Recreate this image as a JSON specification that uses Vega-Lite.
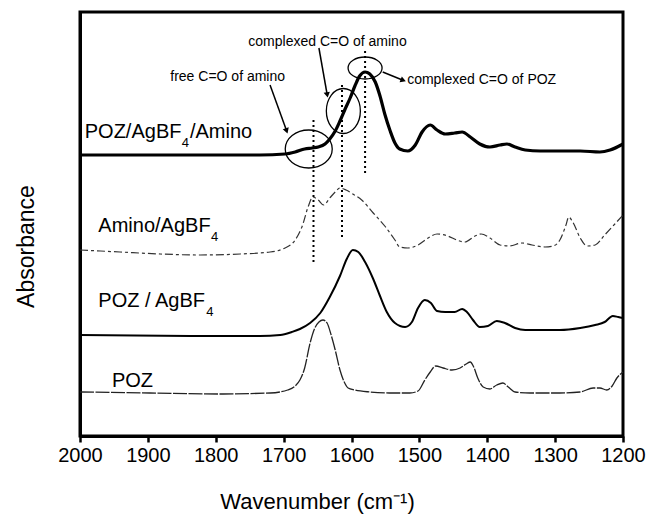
{
  "$schema": "https://vega.github.io/schema/vega-lite/v6.json",
  "width": 543,
  "height": 424,
  "autosize": {"type": "none"},
  "padding": {"left": 80, "top": 12, "right": 25, "bottom": 81},
  "background": "white",
  "config": {"view": {"stroke": "black", "strokeWidth": 3}, "font": "Liberation Sans"},
  "datasets": {
    "spectra": [
      {"series": "POZ/AgBF4/Amino", "wn": 2000, "ab": 281}, {"series": "POZ/AgBF4/Amino", "wn": 1823, "ab": 281}, {"series": "POZ/AgBF4/Amino", "wn": 1735, "ab": 281}, {"series": "POZ/AgBF4/Amino", "wn": 1698, "ab": 282}, {"series": "POZ/AgBF4/Amino", "wn": 1683, "ab": 284}, {"series": "POZ/AgBF4/Amino", "wn": 1669, "ab": 287}, {"series": "POZ/AgBF4/Amino", "wn": 1658, "ab": 288}, {"series": "POZ/AgBF4/Amino", "wn": 1649, "ab": 289}, {"series": "POZ/AgBF4/Amino", "wn": 1639, "ab": 292}, {"series": "POZ/AgBF4/Amino", "wn": 1632, "ab": 297}, {"series": "POZ/AgBF4/Amino", "wn": 1624, "ab": 305}, {"series": "POZ/AgBF4/Amino", "wn": 1617, "ab": 315}, {"series": "POZ/AgBF4/Amino", "wn": 1610, "ab": 326}, {"series": "POZ/AgBF4/Amino", "wn": 1602, "ab": 338}, {"series": "POZ/AgBF4/Amino", "wn": 1595, "ab": 350}, {"series": "POZ/AgBF4/Amino", "wn": 1588, "ab": 360}, {"series": "POZ/AgBF4/Amino", "wn": 1580, "ab": 364}, {"series": "POZ/AgBF4/Amino", "wn": 1573, "ab": 362}, {"series": "POZ/AgBF4/Amino", "wn": 1565, "ab": 354}, {"series": "POZ/AgBF4/Amino", "wn": 1558, "ab": 340}, {"series": "POZ/AgBF4/Amino", "wn": 1551, "ab": 322}, {"series": "POZ/AgBF4/Amino", "wn": 1543, "ab": 305}, {"series": "POZ/AgBF4/Amino", "wn": 1536, "ab": 293}, {"series": "POZ/AgBF4/Amino", "wn": 1529, "ab": 287}, {"series": "POZ/AgBF4/Amino", "wn": 1517, "ab": 285}, {"series": "POZ/AgBF4/Amino", "wn": 1506, "ab": 291}, {"series": "POZ/AgBF4/Amino", "wn": 1496, "ab": 304}, {"series": "POZ/AgBF4/Amino", "wn": 1484, "ab": 311}, {"series": "POZ/AgBF4/Amino", "wn": 1474, "ab": 306}, {"series": "POZ/AgBF4/Amino", "wn": 1462, "ab": 302}, {"series": "POZ/AgBF4/Amino", "wn": 1448, "ab": 303}, {"series": "POZ/AgBF4/Amino", "wn": 1437, "ab": 304}, {"series": "POZ/AgBF4/Amino", "wn": 1425, "ab": 299}, {"series": "POZ/AgBF4/Amino", "wn": 1411, "ab": 292}, {"series": "POZ/AgBF4/Amino", "wn": 1396, "ab": 289}, {"series": "POZ/AgBF4/Amino", "wn": 1381, "ab": 291}, {"series": "POZ/AgBF4/Amino", "wn": 1371, "ab": 292}, {"series": "POZ/AgBF4/Amino", "wn": 1359, "ab": 289}, {"series": "POZ/AgBF4/Amino", "wn": 1344, "ab": 286}, {"series": "POZ/AgBF4/Amino", "wn": 1322, "ab": 285}, {"series": "POZ/AgBF4/Amino", "wn": 1293, "ab": 285}, {"series": "POZ/AgBF4/Amino", "wn": 1263, "ab": 285}, {"series": "POZ/AgBF4/Amino", "wn": 1234, "ab": 284}, {"series": "POZ/AgBF4/Amino", "wn": 1219, "ab": 286}, {"series": "POZ/AgBF4/Amino", "wn": 1200, "ab": 292},

      {"series": "Amino/AgBF4", "wn": 2000, "ab": 186}, {"series": "Amino/AgBF4", "wn": 1941, "ab": 184}, {"series": "Amino/AgBF4", "wn": 1882, "ab": 182}, {"series": "Amino/AgBF4", "wn": 1823, "ab": 181}, {"series": "Amino/AgBF4", "wn": 1764, "ab": 182}, {"series": "Amino/AgBF4", "wn": 1720, "ab": 184}, {"series": "Amino/AgBF4", "wn": 1698, "ab": 188}, {"series": "Amino/AgBF4", "wn": 1683, "ab": 196}, {"series": "Amino/AgBF4", "wn": 1672, "ab": 211}, {"series": "Amino/AgBF4", "wn": 1664, "ab": 229}, {"series": "Amino/AgBF4", "wn": 1657, "ab": 239}, {"series": "Amino/AgBF4", "wn": 1649, "ab": 236}, {"series": "Amino/AgBF4", "wn": 1641, "ab": 231}, {"series": "Amino/AgBF4", "wn": 1632, "ab": 238}, {"series": "Amino/AgBF4", "wn": 1624, "ab": 244}, {"series": "Amino/AgBF4", "wn": 1617, "ab": 248}, {"series": "Amino/AgBF4", "wn": 1608, "ab": 246}, {"series": "Amino/AgBF4", "wn": 1598, "ab": 242}, {"series": "Amino/AgBF4", "wn": 1585, "ab": 236}, {"series": "Amino/AgBF4", "wn": 1568, "ab": 223}, {"series": "Amino/AgBF4", "wn": 1551, "ab": 210}, {"series": "Amino/AgBF4", "wn": 1536, "ab": 196}, {"series": "Amino/AgBF4", "wn": 1529, "ab": 189}, {"series": "Amino/AgBF4", "wn": 1517, "ab": 188}, {"series": "Amino/AgBF4", "wn": 1502, "ab": 191}, {"series": "Amino/AgBF4", "wn": 1487, "ab": 198}, {"series": "Amino/AgBF4", "wn": 1474, "ab": 202}, {"series": "Amino/AgBF4", "wn": 1458, "ab": 200}, {"series": "Amino/AgBF4", "wn": 1445, "ab": 196}, {"series": "Amino/AgBF4", "wn": 1433, "ab": 194}, {"series": "Amino/AgBF4", "wn": 1418, "ab": 200}, {"series": "Amino/AgBF4", "wn": 1409, "ab": 202}, {"series": "Amino/AgBF4", "wn": 1396, "ab": 198}, {"series": "Amino/AgBF4", "wn": 1381, "ab": 191}, {"series": "Amino/AgBF4", "wn": 1367, "ab": 190}, {"series": "Amino/AgBF4", "wn": 1349, "ab": 193}, {"series": "Amino/AgBF4", "wn": 1334, "ab": 191}, {"series": "Amino/AgBF4", "wn": 1315, "ab": 189}, {"series": "Amino/AgBF4", "wn": 1303, "ab": 190}, {"series": "Amino/AgBF4", "wn": 1293, "ab": 196}, {"series": "Amino/AgBF4", "wn": 1284, "ab": 211}, {"series": "Amino/AgBF4", "wn": 1280, "ab": 219}, {"series": "Amino/AgBF4", "wn": 1274, "ab": 214}, {"series": "Amino/AgBF4", "wn": 1263, "ab": 198}, {"series": "Amino/AgBF4", "wn": 1253, "ab": 190}, {"series": "Amino/AgBF4", "wn": 1241, "ab": 191}, {"series": "Amino/AgBF4", "wn": 1227, "ab": 201}, {"series": "Amino/AgBF4", "wn": 1212, "ab": 212}, {"series": "Amino/AgBF4", "wn": 1200, "ab": 221},

      {"series": "POZ / AgBF4", "wn": 2000, "ab": 101}, {"series": "POZ / AgBF4", "wn": 1823, "ab": 100}, {"series": "POZ / AgBF4", "wn": 1735, "ab": 100}, {"series": "POZ / AgBF4", "wn": 1705, "ab": 101}, {"series": "POZ / AgBF4", "wn": 1688, "ab": 104}, {"series": "POZ / AgBF4", "wn": 1676, "ab": 107}, {"series": "POZ / AgBF4", "wn": 1661, "ab": 113}, {"series": "POZ / AgBF4", "wn": 1646, "ab": 123}, {"series": "POZ / AgBF4", "wn": 1632, "ab": 139}, {"series": "POZ / AgBF4", "wn": 1617, "ab": 160}, {"series": "POZ / AgBF4", "wn": 1607, "ab": 177}, {"series": "POZ / AgBF4", "wn": 1598, "ab": 186}, {"series": "POZ / AgBF4", "wn": 1590, "ab": 184}, {"series": "POZ / AgBF4", "wn": 1580, "ab": 174}, {"series": "POZ / AgBF4", "wn": 1568, "ab": 157}, {"series": "POZ / AgBF4", "wn": 1558, "ab": 140}, {"series": "POZ / AgBF4", "wn": 1548, "ab": 124}, {"series": "POZ / AgBF4", "wn": 1536, "ab": 113}, {"series": "POZ / AgBF4", "wn": 1521, "ab": 109}, {"series": "POZ / AgBF4", "wn": 1511, "ab": 114}, {"series": "POZ / AgBF4", "wn": 1502, "ab": 128}, {"series": "POZ / AgBF4", "wn": 1492, "ab": 136}, {"series": "POZ / AgBF4", "wn": 1483, "ab": 133}, {"series": "POZ / AgBF4", "wn": 1474, "ab": 125}, {"series": "POZ / AgBF4", "wn": 1462, "ab": 124}, {"series": "POZ / AgBF4", "wn": 1448, "ab": 124}, {"series": "POZ / AgBF4", "wn": 1437, "ab": 127}, {"series": "POZ / AgBF4", "wn": 1430, "ab": 124}, {"series": "POZ / AgBF4", "wn": 1421, "ab": 116}, {"series": "POZ / AgBF4", "wn": 1411, "ab": 109}, {"series": "POZ / AgBF4", "wn": 1399, "ab": 110}, {"series": "POZ / AgBF4", "wn": 1386, "ab": 115}, {"series": "POZ / AgBF4", "wn": 1374, "ab": 113}, {"series": "POZ / AgBF4", "wn": 1359, "ab": 108}, {"series": "POZ / AgBF4", "wn": 1344, "ab": 106}, {"series": "POZ / AgBF4", "wn": 1322, "ab": 106}, {"series": "POZ / AgBF4", "wn": 1293, "ab": 106}, {"series": "POZ / AgBF4", "wn": 1263, "ab": 108}, {"series": "POZ / AgBF4", "wn": 1241, "ab": 111}, {"series": "POZ / AgBF4", "wn": 1227, "ab": 114}, {"series": "POZ / AgBF4", "wn": 1215, "ab": 120}, {"series": "POZ / AgBF4", "wn": 1207, "ab": 119}, {"series": "POZ / AgBF4", "wn": 1200, "ab": 118},

      {"series": "POZ", "wn": 2000, "ab": 44}, {"series": "POZ", "wn": 1897, "ab": 43}, {"series": "POZ", "wn": 1794, "ab": 42}, {"series": "POZ", "wn": 1720, "ab": 43}, {"series": "POZ", "wn": 1694, "ab": 46}, {"series": "POZ", "wn": 1683, "ab": 50}, {"series": "POZ", "wn": 1676, "ab": 56}, {"series": "POZ", "wn": 1669, "ab": 68}, {"series": "POZ", "wn": 1661, "ab": 93}, {"series": "POZ", "wn": 1654, "ab": 108}, {"series": "POZ", "wn": 1648, "ab": 114}, {"series": "POZ", "wn": 1642, "ab": 116}, {"series": "POZ", "wn": 1636, "ab": 113}, {"series": "POZ", "wn": 1630, "ab": 101}, {"series": "POZ", "wn": 1624, "ab": 86}, {"series": "POZ", "wn": 1617, "ab": 66}, {"series": "POZ", "wn": 1610, "ab": 53}, {"series": "POZ", "wn": 1605, "ab": 48}, {"series": "POZ", "wn": 1595, "ab": 46}, {"series": "POZ", "wn": 1573, "ab": 44}, {"series": "POZ", "wn": 1543, "ab": 43}, {"series": "POZ", "wn": 1514, "ab": 43}, {"series": "POZ", "wn": 1502, "ab": 45}, {"series": "POZ", "wn": 1492, "ab": 56}, {"series": "POZ", "wn": 1484, "ab": 64}, {"series": "POZ", "wn": 1476, "ab": 70}, {"series": "POZ", "wn": 1465, "ab": 68}, {"series": "POZ", "wn": 1452, "ab": 66}, {"series": "POZ", "wn": 1440, "ab": 68}, {"series": "POZ", "wn": 1431, "ab": 72}, {"series": "POZ", "wn": 1425, "ab": 74}, {"series": "POZ", "wn": 1420, "ab": 69}, {"series": "POZ", "wn": 1414, "ab": 58}, {"series": "POZ", "wn": 1406, "ab": 49}, {"series": "POZ", "wn": 1396, "ab": 47}, {"series": "POZ", "wn": 1386, "ab": 51}, {"series": "POZ", "wn": 1377, "ab": 53}, {"series": "POZ", "wn": 1369, "ab": 49}, {"series": "POZ", "wn": 1359, "ab": 44}, {"series": "POZ", "wn": 1337, "ab": 43}, {"series": "POZ", "wn": 1293, "ab": 43}, {"series": "POZ", "wn": 1263, "ab": 44}, {"series": "POZ", "wn": 1244, "ab": 48}, {"series": "POZ", "wn": 1234, "ab": 48}, {"series": "POZ", "wn": 1224, "ab": 46}, {"series": "POZ", "wn": 1216, "ab": 50}, {"series": "POZ", "wn": 1209, "ab": 58}, {"series": "POZ", "wn": 1200, "ab": 64}
    ],
    "labels": [
      {"wn": 1993, "ab": 298, "t": "POZ/AgBF"},
      {"wn": 1838, "ab": 298, "t": "/Amino"},
      {"wn": 1973, "ab": 204, "t": "Amino/AgBF"},
      {"wn": 1973, "ab": 129, "t": "POZ / AgBF"},
      {"wn": 1953, "ab": 49, "t": "POZ"}
    ],
    "subs": [
      {"wn": 1850, "ab": 289, "t": "4"},
      {"wn": 1807, "ab": 195, "t": "4"},
      {"wn": 1814, "ab": 120, "t": "4"}
    ],
    "notes": [
      {"wn": 1867, "ab": 355, "t": "free C=O of amino"},
      {"wn": 1752, "ab": 390, "t": "complexed C=O of amino"},
      {"wn": 1518, "ab": 352, "t": "complexed C=O of POZ"}
    ],
    "vlines": [
      {"wn": 1656, "ab": 174, "ab2": 316},
      {"wn": 1614, "ab": 199, "ab2": 354},
      {"wn": 1580, "ab": 263, "ab2": 386}
    ],
    "arrows": [
      {"wn": 1720, "ab": 351, "wn2": 1696, "ab2": 306},
      {"wn": 1648, "ab": 388, "wn2": 1636, "ab2": 342},
      {"wn": 1554, "ab": 364, "wn2": 1525, "ab2": 356}
    ]
  },
  "encoding": {
    "x": {
      "field": "wn", "type": "quantitative",
      "scale": {"domain": [2000, 1200], "nice": false, "zero": false},
      "axis": {
        "values": [2000, 1900, 1800, 1700, 1600, 1500, 1400, 1300, 1200],
        "format": "d", "title": "Wavenumber (cm⁻¹)", "grid": false,
        "tickSize": 6, "tickWidth": 2.5, "tickColor": "black",
        "domainWidth": 3, "domainColor": "black",
        "labelFontSize": 20, "labelFont": "Liberation Sans", "labelColor": "black",
        "labelPadding": 3, "labelFlush": false, "labelOverlap": false,
        "titleFontSize": 22, "titleFont": "Liberation Sans", "titleFontWeight": "normal", "titleColor": "black",
        "titleX": 237, "titleY": 72, "titleBaseline": "alphabetic", "titleAlign": "center"
      }
    },
    "y": {
      "field": "ab", "type": "quantitative",
      "scale": {"domain": [0, 424], "nice": false, "zero": false},
      "axis": {
        "title": "Absorbance", "labels": false, "ticks": false, "grid": false,
        "domainWidth": 3, "domainColor": "black",
        "titleFontSize": 23, "titleFont": "Liberation Sans", "titleFontWeight": "normal", "titleColor": "black",
        "titleX": -47, "titleY": 234, "titleAlign": "center", "titleBaseline": "alphabetic", "titleAngle": -90
      }
    }
  },
  "layer": [
    {
      "data": {"name": "spectra"},
      "transform": [{"filter": "datum.series === 'POZ'"}],
      "mark": {"type": "line", "interpolate": "monotone", "color": "#222", "strokeWidth": 1.3, "strokeDash": [14, 1.5]}
    },
    {
      "data": {"name": "spectra"},
      "transform": [{"filter": "datum.series === 'POZ / AgBF4'"}],
      "mark": {"type": "line", "interpolate": "monotone", "color": "black", "strokeWidth": 2}
    },
    {
      "data": {"name": "spectra"},
      "transform": [{"filter": "datum.series === 'Amino/AgBF4'"}],
      "mark": {"type": "line", "interpolate": "monotone", "color": "#333", "strokeWidth": 1.2, "strokeDash": [8, 3, 3, 3]}
    },
    {
      "data": {"name": "spectra"},
      "transform": [{"filter": "datum.series === 'POZ/AgBF4/Amino'"}],
      "mark": {"type": "line", "interpolate": "monotone", "color": "black", "strokeWidth": 3.2}
    },
    {
      "data": {"name": "vlines"},
      "mark": {"type": "rule", "color": "black", "strokeWidth": 2, "strokeDash": [2, 3]},
      "encoding": {"y2": {"field": "ab2"}}
    },
    {
      "data": {"name": "arrows"},
      "mark": {"type": "rule", "color": "black", "strokeWidth": 1.5},
      "encoding": {"x2": {"field": "wn2"}, "y2": {"field": "ab2"}}
    },
    {
      "data": {"values": [{"wn": 1696, "ab": 306}]},
      "mark": {"type": "point", "shape": "triangle", "size": 40, "filled": true, "color": "black", "opacity": 1, "angle": 161}
    },
    {
      "data": {"values": [{"wn": 1636, "ab": 342}]},
      "mark": {"type": "point", "shape": "triangle", "size": 40, "filled": true, "color": "black", "opacity": 1, "angle": 170}
    },
    {
      "data": {"values": [{"wn": 1525, "ab": 356}]},
      "mark": {"type": "point", "shape": "triangle", "size": 40, "filled": true, "color": "black", "opacity": 1, "angle": 111}
    },
    {
      "data": {"values": [{"wn": 1663, "ab": 287}]},
      "mark": {"type": "point", "shape": "M 1 0 C 1 0.447 0.552 0.809 0 0.809 C -0.552 0.809 -1 0.447 -1 0 C -1 -0.447 -0.552 -0.809 0 -0.809 C 0.552 -0.809 1 -0.447 1 0 Z", "size": 2209, "filled": false, "stroke": "black", "strokeWidth": 1.3, "opacity": 1}
    },
    {
      "data": {"values": [{"wn": 1612, "ab": 325}]},
      "mark": {"type": "point", "shape": "M 0.756 0 C 0.756 0.552 0.417 1 0 1 C -0.417 1 -0.756 0.552 -0.756 0 C -0.756 -0.552 -0.417 -1 0 -1 C 0.417 -1 0.756 -0.552 0.756 0 Z", "size": 2025, "filled": false, "stroke": "black", "strokeWidth": 1.3, "opacity": 1}
    },
    {
      "data": {"values": [{"wn": 1580, "ab": 368}]},
      "mark": {"type": "point", "shape": "M 1 0 C 1 0.357 0.552 0.647 0 0.647 C -0.552 0.647 -1 0.357 -1 0 C -1 -0.357 -0.552 -0.647 0 -0.647 C 0.552 -0.647 1 -0.357 1 0 Z", "size": 1156, "filled": false, "stroke": "black", "strokeWidth": 1.3, "opacity": 1}
    },
    {
      "data": {"name": "labels"},
      "mark": {"type": "text", "align": "left", "baseline": "alphabetic", "fontSize": 20, "font": "Liberation Sans", "color": "black"},
      "encoding": {"text": {"field": "t"}}
    },
    {
      "data": {"name": "subs"},
      "mark": {"type": "text", "align": "left", "baseline": "alphabetic", "fontSize": 13, "font": "Liberation Sans", "color": "black"},
      "encoding": {"text": {"field": "t"}}
    },
    {
      "data": {"name": "notes"},
      "mark": {"type": "text", "align": "left", "baseline": "alphabetic", "fontSize": 14, "font": "Liberation Sans", "color": "black"},
      "encoding": {"text": {"field": "t"}}
    }
  ]
}
